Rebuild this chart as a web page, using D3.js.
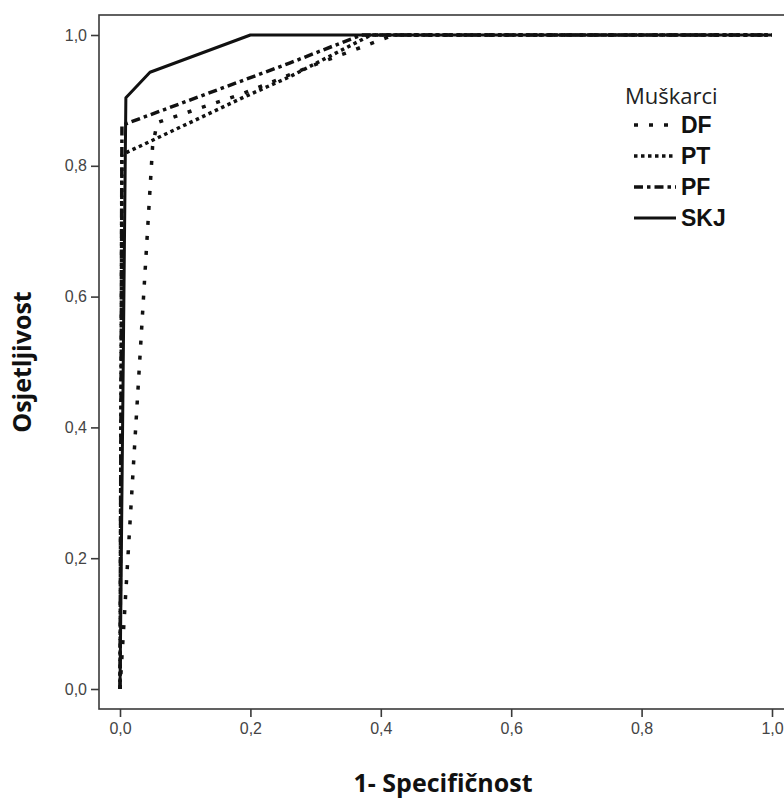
<!DOCTYPE html>
<html>
<head>
<meta charset="utf-8">
<script src="https://cdn.jsdelivr.net/npm/d3@7"></script>
<style>
  html, body { margin: 0; padding: 0; background: #fff; }
  svg { display: block; }
</style>
</head>
<body>
<div id="chart"></div>
<script>
(() => {
    // ROC points: [1 - specificity, sensitivity]
    const dfPoints  = [[0, 0], [0.05, 0.83], [0.057, 0.866], [0.19, 0.911], [0.3, 0.955], [0.42, 1], [1, 1]];
    const ptPoints  = [[0, 0], [0.003, 0.817], [0.19, 0.905], [0.26, 0.936], [0.385, 1], [1, 1]];
    const pfPoints  = [[0, 0], [0.003, 0.862], [0.26, 0.957], [0.37, 1], [1, 1]];
    const skjPoints = [[0, 0], [0.009, 0.904], [0.046, 0.943], [0.2, 1], [1, 1]];

    const seriesNames = ['DF', 'PT', 'PF', 'SKJ'];
    const xTicks = [0, 0.2, 0.4, 0.6, 0.8, 1.0];
    const yTicks = [0, 0.2, 0.4, 0.6, 0.8, 1.0];
    const legendTitle = 'Muškarci';
    const xTitle = '1- Specifičnost';
    const yTitle = 'Osjetljivost';

    const W = 784, H = 800;
    const frame = { left: 99, top: 15, right: 800, bottom: 709 };

    // dash style per series
    const dashes = { DF: '4,11', PT: '3.5,3.5', PF: '9,4,3.5,4', SKJ: null };
    const series = {
        DF: dfPoints, PT: ptPoints, PF: pfPoints, SKJ: skjPoints
    };

    const x = d3.scaleLinear().domain([0, 1]).range([120, 772]);
    const y = d3.scaleLinear().domain([0, 1]).range([689, 35]);
    const fmt = d => d3.format('.1f')(d).replace('.', ',');

    const svg = d3.select('#chart').append('svg')
        .attr('width', W)
        .attr('height', H);

    // plot frame
    svg.append('rect')
        .attr('x', frame.left)
        .attr('y', frame.top)
        .attr('width', frame.right - frame.left)
        .attr('height', frame.bottom - frame.top)
        .attr('fill', 'none')
        .attr('stroke', '#3a3a3a')
        .attr('stroke-width', 1.6);

    const xAxis = svg.append('g')
        .attr('transform', `translate(0,${frame.bottom})`)
        .call(d3.axisBottom(x).tickValues(xTicks).tickFormat(fmt).tickSize(8).tickPadding(6));
    const yAxis = svg.append('g')
        .attr('transform', `translate(${frame.left},0)`)
        .call(d3.axisLeft(y).tickValues(yTicks).tickFormat(fmt).tickSize(8).tickPadding(4));

    [xAxis, yAxis].forEach(ax => {
        ax.select('.domain').remove();
        ax.selectAll('.tick line').attr('stroke', '#3a3a3a').attr('stroke-width', 1.6);
        ax.selectAll('.tick text')
            .attr('fill', '#444')
            .attr('font-family', '"Liberation Sans", Arial, sans-serif')
            .attr('font-size', 16);
    });

    const line = d3.line().x(d => x(d[0])).y(d => y(d[1]));

    const curves = svg.append('g');
    seriesNames.forEach(name => {
        curves.append('path')
            .datum(series[name])
            .attr('d', line)
            .attr('fill', 'none')
            .attr('stroke', '#111')
            .attr('stroke-width', name === 'SKJ' ? 3 : 3.5)
            .attr('stroke-dasharray', dashes[name])
            .attr('stroke-linejoin', 'round');
    });

    // legend
    const legend = svg.append('g');
    legend.append('text')
        .attr('x', 625)
        .attr('y', 104)
        .text(legendTitle)
        .attr('fill', '#222')
        .style('font-family', '"Open Sans", sans-serif')
        .style('font-size', '22px');

    seriesNames.forEach((name, i) => {
        const cy = 125 + i * 31;
        legend.append('line')
            .attr('x1', 634).attr('x2', 676)
            .attr('y1', cy).attr('y2', cy)
            .attr('stroke', '#111')
            .attr('stroke-width', name === 'SKJ' ? 3 : 3.5)
            .attr('stroke-dasharray', dashes[name]);
        legend.append('text')
            .attr('x', 681)
            .attr('y', cy)
            .attr('dy', '0.36em')
            .text(name)
            .attr('fill', '#111')
            .style('font-family', '"Liberation Sans", Arial, sans-serif')
            .style('font-weight', 'bold')
            .style('font-size', '23px');
    });

    // axis titles
    svg.append('text')
        .attr('x', 443)
        .attr('y', 792)
        .attr('text-anchor', 'middle')
        .text(xTitle)
        .attr('fill', '#111')
        .style('font-family', '"Open Sans", sans-serif')
        .style('font-weight', 'bold')
        .style('font-size', '25px');

    svg.append('text')
        .attr('transform', 'translate(31,362) rotate(-90)')
        .attr('text-anchor', 'middle')
        .text(yTitle)
        .attr('fill', '#111')
        .style('font-family', '"Open Sans", sans-serif')
        .style('font-weight', 'bold')
        .style('font-size', '25px');
})();
</script>
</body>
</html>
